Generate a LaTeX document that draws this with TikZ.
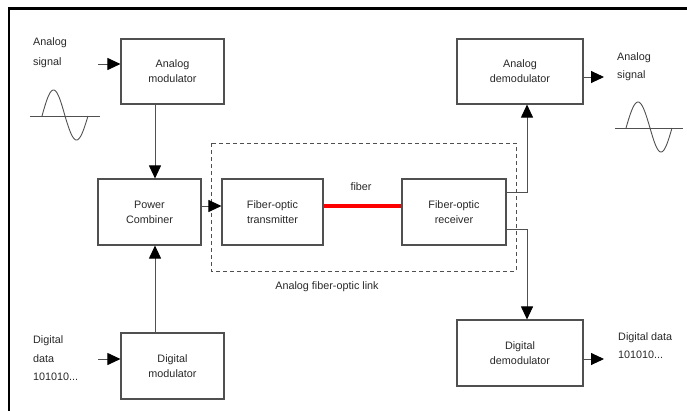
\documentclass[tikz,border=0pt]{standalone}
\usepackage{fontspec}
\setmainfont{Liberation Sans}
\usetikzlibrary{arrows.meta}
\definecolor{linegray}{HTML}{505050}
\definecolor{txtgray}{HTML}{282828}
\begin{document}
\begin{tikzpicture}[x=1pt,y=-1pt,
  blk/.style={draw=linegray,line width=1.1pt,fill=white,align=center,inner sep=0pt,
     text=txtgray,font=\fontsize{10.8}{15}\selectfont},
  lbl/.style={anchor=west,align=left,inner sep=0pt,text=txtgray},
  conn/.style={draw=linegray,line width=0.9pt},
  arr/.style={conn,-{Triangle[length=13pt,width=12pt,fill=black,color=black]}},
  wave/.style={draw=linegray,line width=0.9pt}]
\useasboundingbox (0,0) rectangle (687,410);
% frame
\draw[line width=2.6pt,line cap=rect] (9,410) -- (9,8.5) -- (687,8.5);
% dashed link box
\draw[linegray,line width=0.9pt,dash pattern=on 4pt off 3pt] (211,143) rectangle (516,271);
% blocks
\node[blk,minimum width=103,minimum height=65] (amod) at (172.5,71.5) {Analog\\modulator};
\node[blk,minimum width=126,minimum height=65] (ademod) at (520,71.5) {Analog\\demodulator};
\node[blk,minimum width=103,minimum height=66] (pc) at (149.5,212) {Power\\Combiner};
\node[blk,minimum width=101,minimum height=66] (tx) at (272.5,212) {Fiber-optic\\transmitter};
\node[blk,minimum width=104,minimum height=66] (rx) at (454,212) {Fiber-optic\\receiver};
\node[blk,minimum width=103,minimum height=66] (dmod) at (172.5,366) {Digital\\modulator};
\node[blk,minimum width=126,minimum height=66] (ddemod) at (520,353) {Digital\\demodulator};
% labels
\node[lbl,font=\fontsize{10.8}{20}\selectfont] (ain) at (33,53) {Analog\\signal};
\node[lbl,font=\fontsize{10.8}{17.5}\selectfont] (aout) at (617,66.5) {Analog\\signal};
\node[lbl,font=\fontsize{10.8}{18.5}\selectfont] (din) at (33,358.5) {Digital\\data\\101010...};
\node[lbl,font=\fontsize{10.8}{18}\selectfont] (dout) at (618,346) {Digital data\\101010...};
\node[text=txtgray,font=\fontsize{10.8}{12}\selectfont,inner sep=0pt] (fib) at (361,187) {fiber};
\node[text=txtgray,font=\fontsize{10.8}{12}\selectfont,inner sep=0pt] (link) at (327,287) {Analog fiber-optic link};
% coordinates
\coordinate (cin) at (98,64);
\coordinate (cdin) at (98,359);
\coordinate (cx) at (155,0);
\coordinate (cy) at (0,206);
\coordinate (k1) at (527,192);
\coordinate (k2) at (527,229);
\coordinate (cout) at (604,77);
\coordinate (cdout) at (604,359);
% connectors
\draw[arr] (cin) -- (cin -| amod.west);
\draw[arr] (cdin) -- (cdin -| dmod.west);
\draw[arr] (amod.south -| cx) -- (pc.north -| cx);
\draw[arr] (dmod.north -| cx) -- (pc.south -| cx);
\draw[arr] (pc.east |- cy) -- (tx.west |- cy);
\draw[red,line width=3.6pt] (tx.east |- cy) -- (rx.west |- cy);
\draw[arr] (rx.east |- k1) -- (k1) -- (k1 |- ademod.south);
\draw[arr] (rx.east |- k2) -- (k2) -- (k2 |- ddemod.north);
\draw[arr] (ademod.east |- cout) -- (cout);
\draw[arr] (ddemod.east |- cdout) -- (cdout);
% sine waves
\draw[wave] (30,116) -- (100,116);
\draw[wave,smooth] plot[domain=0:180,samples=40] ({42+23*\x/180},{116-26*sin(\x)});
\draw[wave,smooth] plot[domain=0:180,samples=40] ({65+23*\x/180},{116+24*sin(\x)});
\draw[wave] (615,128) -- (683,128);
\draw[wave,smooth] plot[domain=0:180,samples=40] ({626+24*\x/180},{128-26*sin(\x)});
\draw[wave,smooth] plot[domain=0:180,samples=40] ({650+22*\x/180},{128+24*sin(\x)});
\end{tikzpicture}
\end{document}
